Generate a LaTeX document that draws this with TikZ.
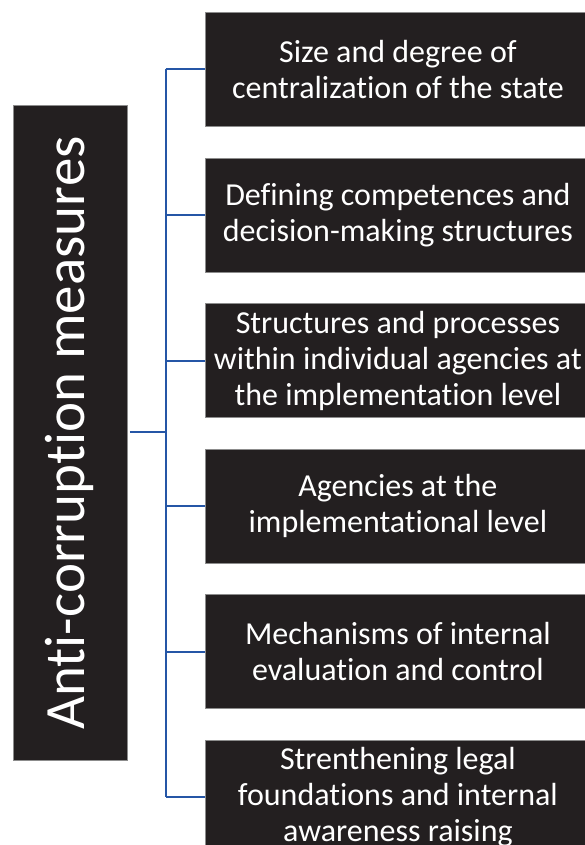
\documentclass[tikz,border=0pt]{standalone}
\usepackage{fontspec}
\setmainfont[Ligatures=NoCommon]{Carlito}
\begin{document}
\begin{tikzpicture}[x=1pt,y=-1pt,
  darkbox/.style={draw=black!45, line width=0.8pt, fill=boxfill, text=white, inner sep=0pt},
  conn/.style={draw=linkblue, line width=2pt}]
\definecolor{boxfill}{HTML}{231F20}
\definecolor{linkblue}{HTML}{2556A6}
\useasboundingbox (0,0) rectangle (584,845);
% left box
\node[darkbox, minimum width=114pt, minimum height=655pt, anchor=north west] (main) at (12.5,105) {};
\node[text=white, rotate=90, font=\fontsize{57}{66}\selectfont] (maintext) at (main.center) {Anti-corruption measures};
% right boxes
\foreach \i/\t in {1/{Size and degree of\\centralization of the state},
                   2/{Defining competences and\\decision-making structures},
                   3/{Structures and processes\\within individual agencies at\\the implementation level},
                   4/{Agencies at the\\implementational level},
                   5/{Mechanisms of internal\\evaluation and control},
                   6/{Strenthening legal\\foundations and internal\\awareness raising}}{
  \node[darkbox, minimum width=385pt, minimum height=114pt, anchor=north west] (b\i) at (205,{12+(\i-1)*145.6}) {};
  \node[text=white, align=center, font=\fontsize{32}{36}\selectfont] (t\i) at ([xshift=0pt]b\i.center) {\t};
}
% connectors
\coordinate (hub) at (165.5,432);
\draw[conn] (main.east |- hub) ++(2.5,0) -- (hub);
\draw[conn] (hub |- b1.west) -- (hub |- b6.west);
\foreach \i in {1,...,6}{
  \draw[conn] (hub |- b\i.west) -- (b\i.west);
}
\end{tikzpicture}
\end{document}
